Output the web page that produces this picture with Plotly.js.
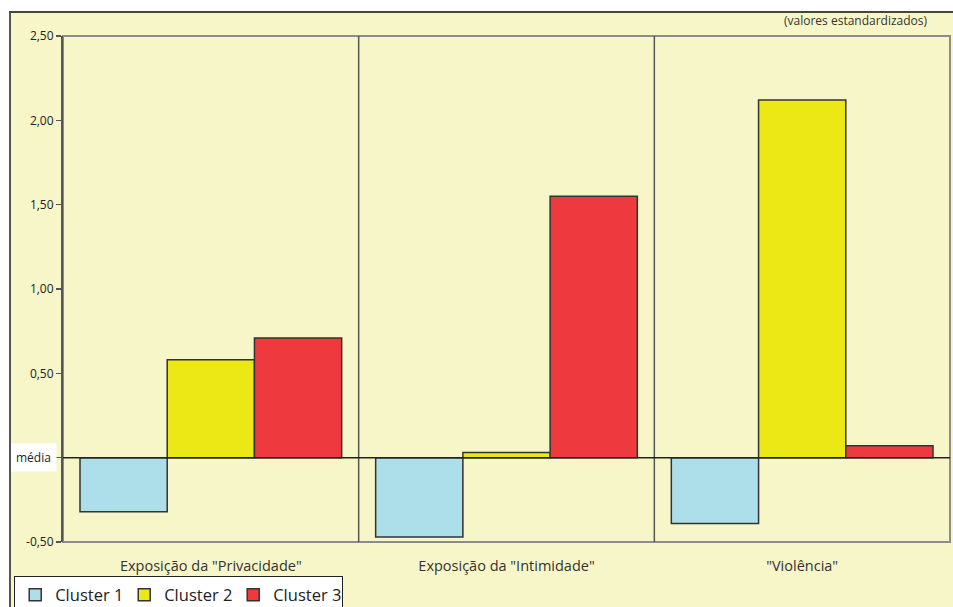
<!DOCTYPE html>
<html>
<head>
<meta charset="utf-8">
<script src="https://cdn.plot.ly/plotly-3.0.1.min.js"></script>
<style>
html, body { margin: 0; padding: 0; background: #ffffff; width: 953px; height: 607px; overflow: hidden; }
#frame { position: absolute; left: 9px; top: 11px; width: 944px; height: 596px; background: #f7f6c8;
  border-left: 2px solid #555; border-top: 2px solid #444; box-sizing: border-box; overflow: hidden; }
#chart { width: 942px; height: 640px; }
</style>
</head>
<body>
<div id="frame"><div id="chart"></div></div>
<script>
const categories = ['Exposição da "Privacidade"', 'Exposição da "Intimidade"', '"Violência"'];
const seriesNames = ['Cluster 1', 'Cluster 2', 'Cluster 3'];
const cluster1 = [-0.32, -0.47, -0.39];
const cluster2 = [0.58, 0.03, 2.12];
const cluster3 = [0.71, 1.55, 0.07];
const seriesColors = ['#acdfe9', '#ebe815', '#ee3a3f'];
const yTickVals = [-0.5, 0, 0.5, 1.0, 1.5, 2.0, 2.5];
const yTickText = ['-0,50', '', '0,50', '1,00', '1,50', '2,00', '2,50'];

const font = 'Open Sans, Noto Sans, sans-serif';
const allSeries = [cluster1, cluster2, cluster3];
const traces = allSeries.map((vals, i) => ({
  type: 'bar',
  name: seriesNames[i],
  x: categories,
  y: vals,
  marker: { color: seriesColors[i], line: { color: '#333333', width: 1.5 } },
  hoverinfo: 'skip'
}));

const layout = {
  width: 942, height: 640,
  margin: { l: 49, r: 3, t: 23, b: 111 },
  paper_bgcolor: 'rgba(0,0,0,0)',
  plot_bgcolor: 'rgba(0,0,0,0)',
  barmode: 'group',
  bargap: 0.115,
  bargroupgap: 0,
  font: { family: font, size: 12, color: '#333' },
  xaxis: {
    range: [-0.5, 2.5],
    showgrid: false, zeroline: false, showline: false,
    ticks: '', ticklabelstandoff: 13,
    tickfont: { family: font, size: 14.5, color: '#333' },
    fixedrange: true
  },
  yaxis: {
    range: [-0.5, 2.5],
    tickmode: 'array', tickvals: yTickVals, ticktext: yTickText,
    showgrid: false, zeroline: false,
    showline: true, linecolor: '#555', linewidth: 2,
    ticks: 'outside', ticklen: 5, tickcolor: '#555', tickwidth: 1.5,
    tickfont: { family: font, size: 12, color: '#222' },
    fixedrange: true
  },
  showlegend: true,
  legend: {
    orientation: 'h',
    x: -0.055, xanchor: 'left', y: -0.068, yanchor: 'top',
    bgcolor: '#ffffff', bordercolor: '#222', borderwidth: 1,
    font: { family: font, size: 16.5, color: '#222' },
    itemwidth: 30, traceorder: 'normal',
    entrywidth: 64, entrywidthmode: 'pixels'
  },
  shapes: [
    { type: 'rect', xref: 'paper', yref: 'paper', x0: 0, x1: 1, y0: 0, y1: 1,
      line: { color: '#8c8c8c', width: 2 }, layer: 'below' },
    { type: 'line', xref: 'x', yref: 'paper', x0: 0.5, x1: 0.5, y0: 0, y1: 1,
      line: { color: '#555', width: 1.5 }, layer: 'below' },
    { type: 'line', xref: 'x', yref: 'paper', x0: 1.5, x1: 1.5, y0: 0, y1: 1,
      line: { color: '#555', width: 1.5 }, layer: 'below' },
    { type: 'line', xref: 'paper', yref: 'y', x0: 0, x1: 1, y0: 0, y1: 0,
      line: { color: '#222', width: 1.5 }, layer: 'above' }
  ],
  annotations: [
    { text: 'média', xref: 'paper', yref: 'y', x: 0, y: 0, xanchor: 'right', yanchor: 'middle',
      xshift: -6, showarrow: false, bgcolor: '#ffffff', borderpad: 5,
      font: { family: font, size: 12, color: '#222' } },
    { text: '(valores estandardizados)', xref: 'paper', yref: 'paper', x: 0.977, y: 1.03,
      xanchor: 'right', yanchor: 'middle', showarrow: false,
      font: { family: font, size: 12, color: '#333' } }
  ]
};

Plotly.newPlot('chart', traces, layout, { displayModeBar: false, staticPlot: true });
</script>
</body>
</html>
